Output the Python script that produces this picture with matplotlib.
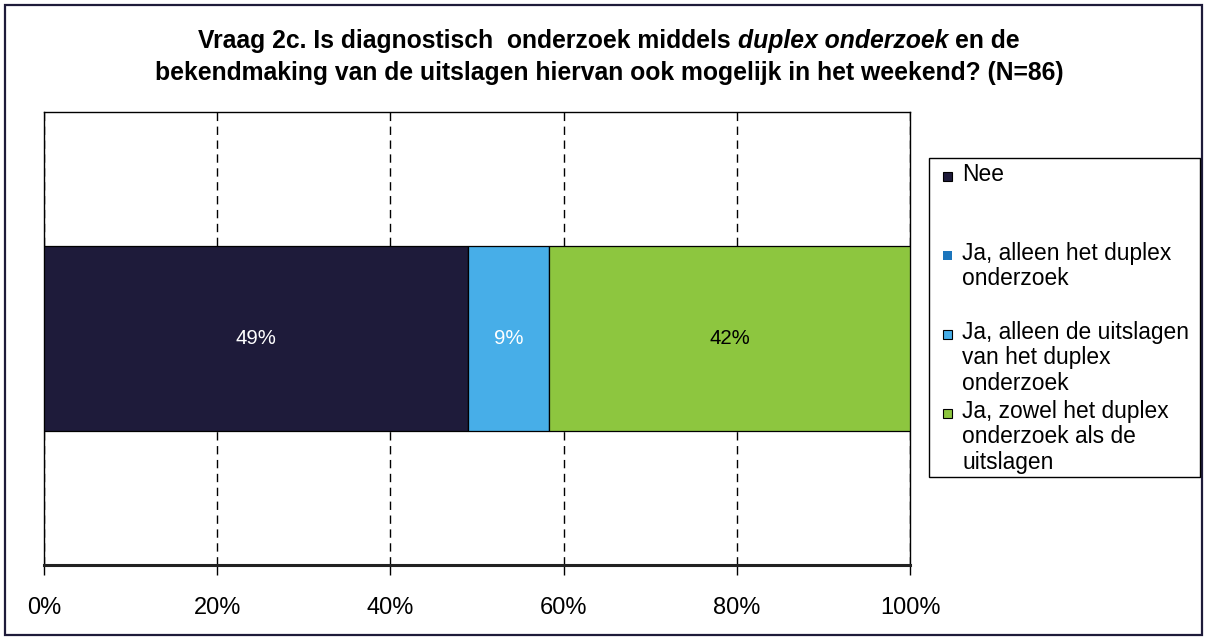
import matplotlib
matplotlib.use("Agg")
import matplotlib.pyplot as plt
from matplotlib.patches import Rectangle

plt.rcParams['font.family'] = ['Liberation Sans', 'DejaVu Sans']

# survey answers (percent of N=86)
categories = ['Nee',
              'Ja, alleen het duplex\nonderzoek',
              'Ja, alleen de uitslagen\nvan het duplex\nonderzoek',
              'Ja, zowel het duplex\nonderzoek als de\nuitslagen']
values = [49.0, 0.0, 9.3, 41.7]
colors = ['#1E1B3A', '#1C75BC', '#47AEE8', '#8DC63F']
label_colors = ['white', 'white', 'white', 'black']
xticks = [0, 20, 40, 60, 80, 100]
xticklabels = ['0%', '20%', '40%', '60%', '80%', '100%']

W, H = 1206, 639
fig = plt.figure(figsize=(W / 100, H / 100), dpi=100)

# outer chart border
fig.patches.append(Rectangle((5 / W, 4 / H), 1197 / W, 630 / H, transform=fig.transFigure,
                             fill=False, edgecolor='#1E1B3A', linewidth=1.6))

ax = fig.add_axes([44 / W, 1 - 565 / H, 866 / W, 453 / H])

left = 0
for v, c, lc in zip(values, colors, label_colors):
    if v > 0:
        ax.barh([0], [v], left=left, height=0.408, color=c, edgecolor='black', linewidth=0.9, zorder=3)
        ax.text(left + v / 2, 0, '%d%%' % round(v), ha='center', va='center',
                color=lc, fontsize=14.7, zorder=4)
    left += v

ax.set_xlim(0, 100)
ax.set_ylim(-0.5, 0.5)
ax.set_yticks([])
ax.set_xticks(xticks)
ax.set_xticklabels(xticklabels, fontsize=17)
ax.tick_params(axis='x', direction='out', length=7, width=1, color='black', pad=16)
ax.xaxis.grid(True, color='black', linestyle=(0, (6, 4)), linewidth=1)
ax.set_axisbelow(True)
for s in ['top', 'left', 'right']:
    ax.spines[s].set_linewidth(1)
    ax.spines[s].set_color('black')
ax.spines['bottom'].set_linewidth(2.2)
ax.spines['bottom'].set_color('#222222')

# title, with the italic part placed piece by piece
fig.canvas.draw()
renderer = fig.canvas.get_renderer()
tfs = 17.8


def text_width(s, style):
    t = fig.text(0, 0, s, fontsize=tfs, fontweight='bold', style=style)
    w = t.get_window_extent(renderer).width
    t.remove()
    return w


space = text_width('a a', 'normal') - text_width('aa', 'normal')
pieces = [('Vraag 2c. Is diagnostisch  onderzoek middels', 'normal'),
          ('duplex onderzoek', 'italic'),
          ('en de', 'normal')]
widths = [text_width(p, st) for p, st in pieces]
total = sum(widths) + 2 * space
x = 609 - total / 2
y1 = 1 - 41 / H
for (p, st), w in zip(pieces, widths):
    fig.text(x / W, y1, p, fontsize=tfs, fontweight='bold', style=st, ha='left', va='center')
    x += w + space
fig.text(609 / W, 1 - 73 / H,
         'bekendmaking van de uitslagen hiervan ook mogelijk in het weekend? (N=86)',
         fontsize=tfs, fontweight='bold', ha='center', va='center')

# legend box drawn like the Excel one
fig.patches.append(Rectangle((929 / W, 1 - 477 / H), 271 / W, 319 / H, transform=fig.transFigure,
                             fill=False, edgecolor='black', linewidth=1))
for i, (cat, c) in enumerate(zip(categories, colors)):
    yc = 176 + 79 * i
    ec = 'none' if i == 1 else 'black'
    fig.patches.append(Rectangle((943 / W, 1 - (yc + 4.5) / H), 9 / W, 9 / H, transform=fig.transFigure,
                                 facecolor=c, edgecolor=ec, linewidth=0.8))
    fig.text(962 / W, 1 - (yc - 13) / H, cat, fontsize=16.4, ha='left', va='top', linespacing=1.13)

fig.savefig('out.png', dpi=100)
